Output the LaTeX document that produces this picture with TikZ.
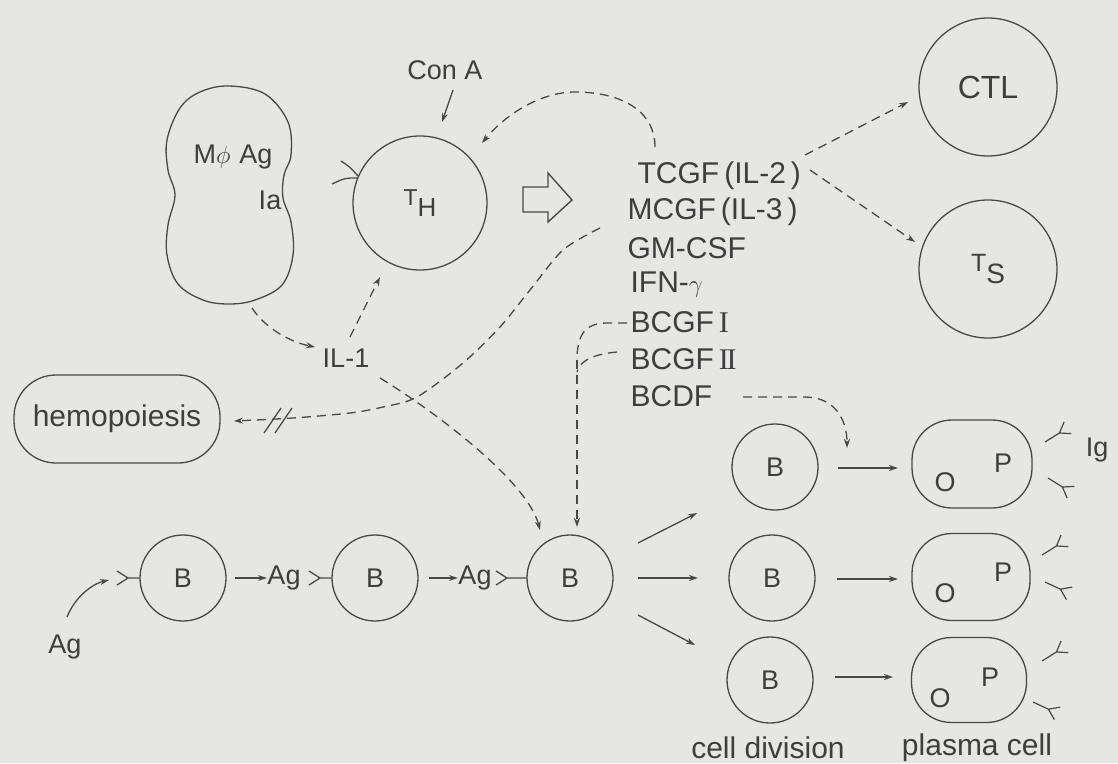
\documentclass[tikz,border=0pt]{standalone}
\usepackage{fontspec}
\setmainfont{Liberation Sans}
\newfontfamily\romfont{Liberation Serif}
\usetikzlibrary{arrows.meta}
\definecolor{bg}{RGB}{230,230,228}
\definecolor{ink}{RGB}{62,62,62}
\definecolor{lin}{RGB}{72,72,72}
\begin{document}
\begin{tikzpicture}[x=1pt,y=-1pt,line width=1.3pt,color=lin,
  cellc/.style={circle,draw=lin,line width=1.3pt,inner sep=0pt,minimum size=#1},
  big/.style={text=ink,inner sep=0pt,font=\fontsize{30}{30}\selectfont},
  mid/.style={text=ink,inner sep=0pt,font=\fontsize{27}{27}\selectfont},
  sml/.style={text=ink,inner sep=0pt,font=\fontsize{27}{27}\selectfont},
  dsh/.style={dash pattern=on 9pt off 6pt},
  arr/.style={-{Stealth[length=9pt,width=6pt]}},
  igy/.pic={\draw[line width=1.2pt] (0,0) -- (17,0) -- ++(35:12) (17,0) -- ++(-35:12);}]
\fill[bg] (0,0) rectangle (1118,763);
\useasboundingbox (0,0) rectangle (1118,763);

% macrophage
\draw plot[smooth cycle, tension=0.6] coordinates {(229,86) (265,94) (288,122) (291,155) (284,175) (283,198) (291,222) (293,255) (282,285) (255,300) (229,304) (203,300) (178,284) (167,255) (168,225) (175,195) (168,170) (167,140) (180,108) (200,92)};
\node[mid] (mphi) at (233,157) {M$\phi$\,\,Ag};
\node[mid] (ia) at (270,200) {Ia};
\coordinate (mbot) at (252,308);

% T helper
\node[cellc=134pt] (th) at (420,203) {};
\node[text=ink,inner sep=0pt,font=\fontsize{26}{26}\selectfont] (thl) at (420,203) {{\fontsize{23}{23}\selectfont T}\raisebox{-0.45em}{H}};
\draw (341,161) .. controls (350,167) .. (358,176);
\draw (332,184) .. controls (345,178) .. (357,178);

% Con A
\node[mid] (cona) at (445,70) {Con A};
\coordinate (ca1) at (453,90);
\coordinate (ca2) at (442,122);
\draw[arr] (ca1) -- (ca2);

% fat arrow
\draw[line width=1.4pt] (523,187) -- (548,187) -- (548,173) -- (572,200) -- (548,222) -- (548,212) -- (523,212) -- cycle;

% cytokines
\node[big,anchor=west] (tcgf) at (637,176) {TCGF\,(IL-2\,)};
\node[big,anchor=west] (mcgf) at (627,212) {MCGF\,(IL-3\,)};
\node[big,anchor=west] (gm) at (627,248) {GM-CSF};
\node[big,anchor=west] (ifn) at (630,285) {IFN-$\gamma$};
\node[big,anchor=west] (bg1) at (630,322) {BCGF\,{\romfont I}};
\node[big,anchor=west] (bg2) at (630,359) {BCGF\,{\romfont I\kern-0.08em I}};
\node[big,anchor=west] (bcdf) at (630,396) {BCDF};

% CTL and Ts
\node[cellc=138pt] (ctl) at (988,87) {};
\node[text=ink,inner sep=0pt,font=\fontsize{32}{32}\selectfont] at (ctl) {CTL};
\node[cellc=138pt] (ts) at (988,269) {};
\node[text=ink,inner sep=0pt,font=\fontsize{28}{28}\selectfont] at (ts) {{\fontsize{25}{25}\selectfont T}\raisebox{-0.45em}{S}};

% IL-2 feedback and targets
\coordinate (t1) at (655,147);
\coordinate (t2) at (482,143);
\draw[dsh,arr] (t1) .. controls (655,110) and (620,92) .. (575,92) .. controls (540,92) and (505,115) .. (t2);
\coordinate (c1) at (805,155);
\coordinate (c2) at (908,102);
\draw[dsh,arr] (c1) -- (c2);
\coordinate (s1) at (810,170);
\coordinate (s2) at (915,242);
\draw[dsh,arr] (s1) -- (s2);

% IL-1
\node[mid] (il1) at (346,358) {IL-1};
\coordinate (i1) at (315,347);
\draw[dsh,arr] (mbot) .. controls (265,328) and (290,342) .. (i1);
\coordinate (i2) at (350,337);
\coordinate (i3) at (380,277);
\draw[dsh,arr] (i2) -- (i3);
\coordinate (i4) at (380,378);
\coordinate (b3top) at (540,530);
\draw[dsh,arr] (i4) .. controls (431,409) and (527,480) .. (b3top);

% hemopoiesis
\node[draw,rounded corners=42pt,minimum width=206pt,minimum height=88pt,text=ink,font=\fontsize{30}{30}\selectfont,inner sep=0pt] (hemo) at (117,419) {hemopoiesis};
\coordinate (h1) at (600,228);
\coordinate (h2) at (234,421);
\draw[dsh,arr] plot[smooth] coordinates {(h1) (563,250) (530,290) (500,327) (463,363) (417,397) (383,407) (350,413) (293,418) (h2)};
\draw (264,433) -- (281,408);
\draw (275,433) -- (292,408);

% BCGF lines
\coordinate (g1) at (627,323);
\coordinate (g2) at (617,352);
\coordinate (gv) at (577,360);
\coordinate (gb) at (577,527);
\draw[dsh] (g1) -- (607,323) .. controls (585,323) and (577,335) .. (gv);
\draw[dsh] (g2) .. controls (595,354) and (580,360) .. (577,372);
\draw[dsh,arr] (gv) -- (gb);
\coordinate (d1) at (743,397);
\coordinate (d2) at (847,448);
\draw[dsh,arr] (d1) -- (805,397) .. controls (835,397) and (847,420) .. (d2);

% B row
\node[mid] (ag0) at (65,647) {Ag};
\coordinate (a1) at (67,617);
\coordinate (a2) at (109,580);
\draw[arr] (a1) .. controls (75,597) and (92,584) .. (a2);
\node[cellc=86pt] (b1) at (183,578) {}; \node[sml] at (b1) {B};
\node[cellc=86pt] (b2) at (375,578) {}; \node[sml] at (b2) {B};
\node[cellc=86pt] (b3) at (570,578) {}; \node[sml] at (b3) {B};
\draw (117,571) -- (128,578) -- (117,585) (128,578) -- (b1.west);
\node[mid] (ag1) at (284,578) {Ag};
\node[mid] (ag2) at (475,578) {Ag};
\draw[arr] (235,578) -- (ag1.west);
\draw[arr] (429,578) -- (ag2.west);
\draw (309,571) -- (320,578) -- (309,585) (320,578) -- (b2.west);
\draw (496,571) -- (507,578) -- (496,585) (507,578) -- (b3.west);

% division
\node[cellc=86pt] (d1b) at (775,467) {}; \node[sml] at (d1b) {B};
\node[cellc=86pt] (d2b) at (772,578) {}; \node[sml] at (d2b) {B};
\node[cellc=86pt] (d3b) at (770,680) {}; \node[sml] at (d3b) {B};
\draw[arr] (638,543) -- (697,513);
\draw[arr] (638,578) -- (698,578);
\draw[arr] (638,615) -- (695,645);

% plasma cells
\node[draw,rounded corners=40pt,minimum width=120pt,minimum height=88pt] (p1) at (972,464) {};
\node[draw,rounded corners=40pt,minimum width=118pt,minimum height=87pt] (p2) at (971,577) {};
\node[draw,rounded corners=40pt,minimum width=115pt,minimum height=85pt] (p3) at (969,680) {};
\draw[arr] (838,468) -- (898,468);
\draw[arr] (837,579) -- (898,579);
\draw[arr] (835,677) -- (893,677);
\node[sml] at (945,482) {O}; \node[sml] at (1003,463) {P};
\node[sml] at (945,593) {O}; \node[sml] at (1003,572) {P};
\node[sml] at (940,698) {O}; \node[sml] at (990,677) {P};
\pic[rotate=32] at (1045,442) {igy};
\pic[rotate=-32] at (1048,478) {igy};
\pic[rotate=32] at (1042,555) {igy};
\pic[rotate=-25] at (1045,582) {igy};
\pic[rotate=32] at (1042,661) {igy};
\pic[rotate=-25] at (1033,702) {igy};
\node[mid] (ig) at (1097,450) {Ig};

\node[big] (celldiv) at (768,748) {cell division};
\node[big] (plasma) at (977,748) {plasma cell};
\end{tikzpicture}
\end{document}
